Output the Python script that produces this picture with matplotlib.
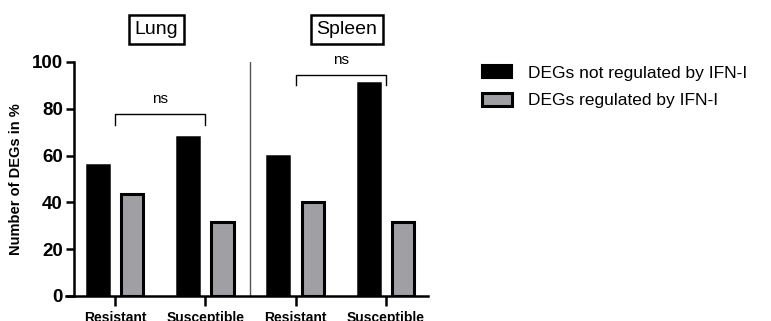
import numpy as np
import matplotlib
matplotlib.use("Agg")
import matplotlib.pyplot as plt
from matplotlib.patches import Patch

plt.rcParams['font.family'] = ['Liberation Sans', 'DejaVu Sans']

groups = ["Resistant", "Susceptible", "Resistant", "Susceptible"]
not_regulated = [56, 68, 60, 91]
regulated = [43.5, 31.5, 40, 31.5]
tissues = ["Lung", "Spleen"]
labels = ["DEGs not regulated by IFN-I", "DEGs regulated by IFN-I"]

gray = "#a0a0a4"
x = np.arange(len(groups))
off = 0.19
w = 0.245

fig = plt.figure(figsize=(7.71, 3.21), dpi=100)
ax = fig.add_axes([0.096, 0.078, 0.459, 0.729])

ax.bar(x - off, not_regulated, width=w, color="black", edgecolor="black", linewidth=1.8)
ax.bar(x + off, regulated, width=w, color=gray, edgecolor="black", linewidth=2.2)

ax.set_xlim(-0.455, 3.467)
ax.set_ylim(0, 100)
ax.set_yticks([0, 20, 40, 60, 80, 100])
ax.set_xticks(x)
ax.set_xticklabels(groups, fontsize=10, fontweight="bold")
ax.tick_params(axis="x", length=7, width=1.8, pad=4)
ax.tick_params(axis="y", length=6, width=1.8, labelsize=13.5, pad=2)
for lab in ax.get_yticklabels():
    lab.set_fontweight("bold")
ax.set_ylabel("Number of DEGs in %", fontsize=10.5, fontweight="bold", labelpad=6)

for s in ["top", "right"]:
    ax.spines[s].set_visible(False)
for s in ["left", "bottom"]:
    ax.spines[s].set_linewidth(1.8)
ax.spines["bottom"].set_bounds(-0.545, 3.467)
ax.spines["bottom"].set_clip_on(False)

# divider between tissues
ax.axvline(1.5, color="#555555", linewidth=1.0)

# significance brackets
def bracket(x0, x1, y, drop, text):
    ax.plot([x0, x0, x1, x1], [y - drop, y, y, y - drop], color="black", linewidth=1.0, clip_on=False)
    ax.text((x0 + x1) / 2, y + 3.5, text, ha="center", va="bottom", fontsize=11, clip_on=False)

bracket(0, 1, 77.8, 4.7, "ns")
bracket(2, 3, 94.4, 4.3, "ns")

# tissue titles
for t, tx in zip(tissues, [0.46, 2.57]):
    ax.text(tx, 114, t, ha="center", va="center", fontsize=14,
            bbox=dict(boxstyle="square,pad=0.3", facecolor="white", edgecolor="black", linewidth=1.8),
            clip_on=False)

handles = [Patch(facecolor="black", edgecolor="black", linewidth=1.5),
           Patch(facecolor=gray, edgecolor="black", linewidth=2.2)]
fig.legend(handles, labels, loc="upper left", bbox_to_anchor=(0.605, 0.845), frameon=False,
           fontsize=12.5, handlelength=1.75, handleheight=0.75, handletextpad=0.9, labelspacing=0.7)

fig.savefig("out.png", dpi=100)
